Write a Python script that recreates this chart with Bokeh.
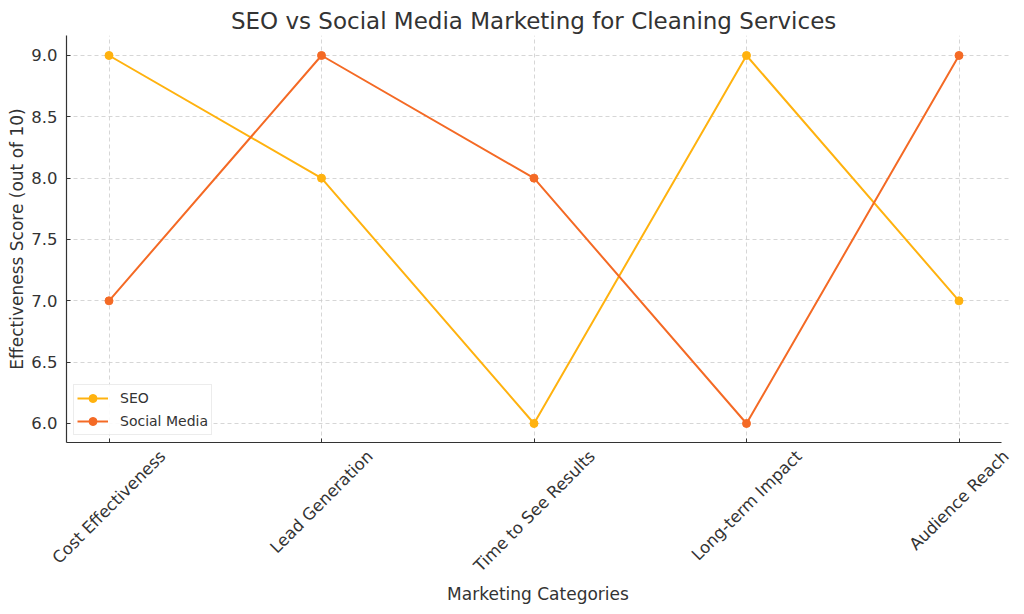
from bokeh.plotting import figure
from bokeh.models import (Range1d, FixedTicker, Legend, LegendItem, LinearAxis,
                          CustomJSTickFormatter)
from bokeh.embed import file_html
from bokeh.resources import INLINE
import math

categories = ["Cost Effectiveness", "Lead Generation", "Time to See Results",
              "Long-term Impact", "Audience Reach"]
seo = [9, 8, 6, 9, 7]
social = [7, 9, 8, 6, 9]
y_ticks = [6.0, 6.5, 7.0, 7.5, 8.0, 8.5, 9.0]
TITLE = "SEO vs Social Media Marketing for Cleaning Services"

FONT = "DejaVu Sans"
SEO_COLOR = "#FFB20F"
SOC_COLOR = "#F46A25"
TEXT = "#333333"
TICK_PX = 16.5
TITLE_PX = 23

# approximate DejaVu Sans advance widths (units per em = 2048)
ADV = {' ': 651, '-': 739, 'A': 1401, 'C': 1430, 'E': 1294, 'G': 1577, 'I': 604,
       'L': 1141, 'M': 1767, 'O': 1612, 'R': 1423, 'S': 1300, 'T': 1251,
       'a': 1255, 'b': 1300, 'c': 1126,
       'd': 1300, 'e': 1260, 'f': 721, 'g': 1300, 'h': 1298, 'i': 569, 'j': 569,
       'k': 1186, 'l': 569, 'm': 1995, 'n': 1298, 'o': 1253, 'p': 1300, 'q': 1300,
       'r': 842, 's': 1067, 't': 803, 'u': 1298, 'v': 1212, 'w': 1675, 'x': 1212,
       'y': 1212, 'z': 1075}


def text_width(s, size):
    return sum(ADV.get(ch, 1250) for ch in s) / 2048.0 * size


x = list(range(len(categories)))
X0, X1 = -0.2, 4.2          # visible axes extent
AXES_W = 935                # spine length in px
px_per_unit = AXES_W / (X1 - X0)
EXTRA = 8                   # frame extended a bit so the last rotated label fits
FRAME_W = AXES_W + EXTRA

p = figure(frame_width=FRAME_W, frame_height=407,
           min_border_left=66, min_border_right=23 - EXTRA,
           min_border_top=35, min_border_bottom=172,
           x_range=Range1d(X0, X1 + EXTRA / px_per_unit),
           y_range=Range1d(5.845, 9.163),
           output_backend="svg", toolbar_location=None,
           title=TITLE)

p.title.text_font = FONT
p.title.text_font_size = f"{TITLE_PX}px"
p.title.text_font_style = "normal"
p.title.text_color = TEXT
p.title.align = "left"
p.title.standoff = 4
# centre the title over the visible axes (not the slightly extended frame)
p.title.offset = (AXES_W - text_width(TITLE, TITLE_PX)) / 2

p.outline_line_color = None

r1 = p.line(x, seo, line_color=SEO_COLOR, line_width=2)
c1 = p.scatter(x, seo, size=8, fill_color=SEO_COLOR, line_color=SEO_COLOR)
r2 = p.line(x, social, line_color=SOC_COLOR, line_width=2)
c2 = p.scatter(x, social, size=8, fill_color=SOC_COLOR, line_color=SOC_COLOR)

legend = Legend(items=[LegendItem(label="SEO", renderers=[r1, c1]),
                       LegendItem(label="Social Media", renderers=[r2, c2])],
                location="bottom_left")
legend.label_text_font = FONT
legend.label_text_font_size = "14px"
legend.label_text_color = TEXT
legend.border_line_color = "#d9d9d9"
legend.border_line_width = 1
legend.background_fill_alpha = 0.9
legend.margin = 7
legend.padding = 3
legend.spacing = 3
legend.glyph_width = 31
legend.glyph_height = 20
legend.label_height = 20
legend.label_standoff = 12
p.add_layout(legend)

# main x axis: ticks and grid at the category positions, no labels
p.xaxis.ticker = FixedTicker(ticks=x)
p.xaxis.major_label_overrides = {i: "" for i in x}
p.xaxis.major_label_standoff = 0
p.xaxis.bounds = (X0, X1)

# label axis: each rotated label shifted so it is centred under its tick
label_ticks = [i + 0.3536 * text_width(c, TICK_PX) / px_per_unit
               for i, c in enumerate(categories)]
lab_axis = LinearAxis(ticker=FixedTicker(ticks=label_ticks),
                      formatter=CustomJSTickFormatter(args=dict(cats=categories),
                                                      code="return cats[index];"),
                      major_label_orientation=math.pi / 4,
                      axis_line_color=None, major_tick_line_color=None,
                      minor_tick_line_color=None)
lab_axis.major_tick_in = 0
lab_axis.major_tick_out = 0
lab_axis.major_label_standoff = 11
lab_axis.major_label_text_font = FONT
lab_axis.major_label_text_font_size = f"{TICK_PX}px"
lab_axis.major_label_text_color = TEXT
lab_axis.axis_label = "Marketing Categories"
lab_axis.axis_label_text_font = FONT
lab_axis.axis_label_text_font_size = "17px"
lab_axis.axis_label_text_font_style = "normal"
lab_axis.axis_label_text_color = TEXT
lab_axis.axis_label_standoff = -1
p.add_layout(lab_axis, "below")

p.yaxis.ticker = FixedTicker(ticks=y_ticks)
p.yaxis.major_label_overrides = {v: f"{v:.1f}" for v in y_ticks}
p.yaxis.axis_label = "Effectiveness Score (out of 10)"
p.yaxis.axis_label_text_font = FONT
p.yaxis.axis_label_text_font_size = "17px"
p.yaxis.axis_label_text_font_style = "normal"
p.yaxis.axis_label_text_color = TEXT
p.yaxis.major_label_text_font = FONT
p.yaxis.major_label_text_font_size = f"{TICK_PX}px"
p.yaxis.major_label_text_color = TEXT
p.yaxis.major_label_standoff = 9
p.yaxis.axis_label_standoff = 1

for ax in (p.xaxis[0], p.yaxis[0]):
    ax.axis_line_color = TEXT
    ax.axis_line_width = 1.2
    ax.major_tick_in = 4
    ax.major_tick_out = 0
    ax.major_tick_line_color = TEXT
    ax.minor_tick_line_color = None

p.grid.grid_line_color = "#cccccc"
p.grid.grid_line_dash = "4 3"
p.grid.grid_line_width = 0.8

open("out.html", "w").write(file_html(p, INLINE))
